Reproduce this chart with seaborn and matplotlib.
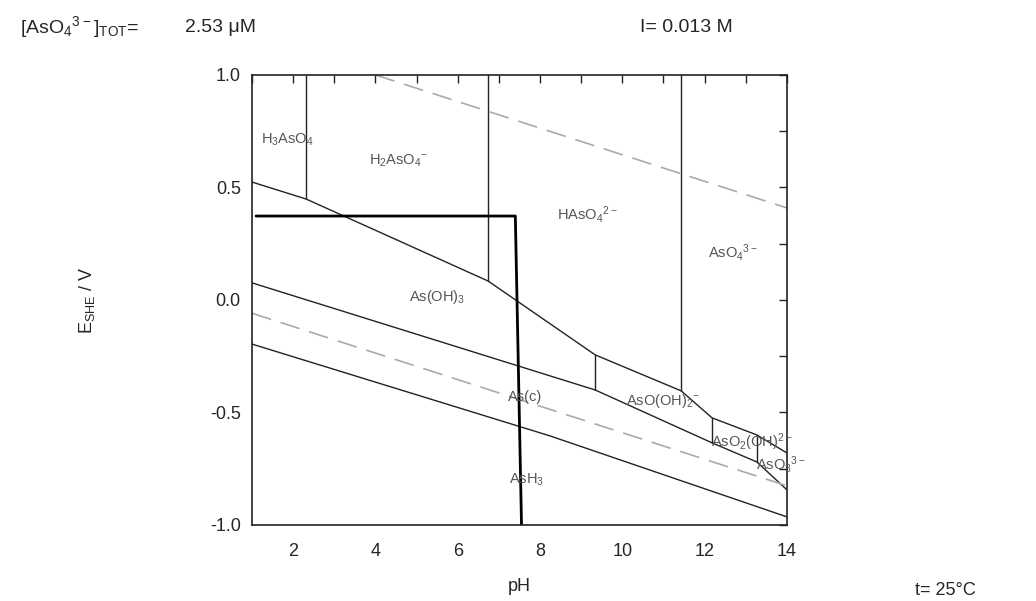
import numpy as np
import pandas as pd
import matplotlib
matplotlib.use("Agg")
import matplotlib.pyplot as plt
import seaborn as sns

# ---- data (pH, E_SHE / V) ----
# As(V) / As(III) boundary
asv_ph = [1.0, 2.31, 6.74, 9.34, 11.43, 12.18, 13.27, 14.0]
asv_e = [0.524, 0.449, 0.084, -0.244, -0.404, -0.524, -0.60, -0.68]
# As(III) / As(c) boundary
asiii_ph = [1.0, 9.34, 12.18, 13.27, 14.0]
asiii_e = [0.076, -0.40, -0.635, -0.72, -0.844]
# As(c) / AsH3 boundary
asc_ph = [1.0, 8.24, 14.0]
asc_e = [-0.196, -0.604, -0.964]
# vertical acid-base boundaries
vert_ph = [2.31, 6.74, 11.43, 9.34, 12.18, 13.27]
vert_top = [1.0, 1.0, 1.0, -0.244, -0.524, -0.60]
vert_bot = [0.449, 0.084, -0.404, -0.40, -0.635, -0.72]
# water stability lines
o2_ph = [4.0, 14.0]
o2_e = [1.0, 0.409]
h2_ph = [1.0, 14.0]
h2_e = [-0.059, -0.826]
# thick marker line
box_ph = [1.1, 7.4, 7.55]
box_e = [0.373, 0.373, -1.0]

species = ["H$_3$AsO$_4$", "H$_2$AsO$_4$$^{-}$", "HAsO$_4$$^{2-}$", "AsO$_4$$^{3-}$",
           "As(OH)$_3$", "As(c)", "AsO(OH)$_2$$^{-}$", "AsO$_2$(OH)$^{2-}$",
           "AsO$_3$$^{3-}$", "AsH$_3$"]
species_ph = [1.22, 4.55, 9.15, 12.7, 5.5, 7.63, 11.0, 13.15, 13.85, 7.68]
species_e = [0.71, 0.62, 0.38, 0.21, 0.013, -0.43, -0.45, -0.63, -0.73, -0.80]
species_ha = ["left", "center", "center", "center", "center", "center",
              "center", "center", "center", "center"]

x_ticks = [2, 4, 6, 8, 10, 12, 14]
y_ticks = [-1.0, -0.5, 0.0, 0.5, 1.0]

# ---- build tables ----
rows = []
seg = 0
for xs, ys in [(asv_ph, asv_e), (asiii_ph, asiii_e), (asc_ph, asc_e)]:
    for x, y in zip(xs, ys):
        rows.append((seg, x, y))
    seg += 1
for x, t, b in zip(vert_ph, vert_top, vert_bot):
    rows.append((seg, x, t))
    rows.append((seg, x, b))
    seg += 1
solid = pd.DataFrame(rows, columns=["seg", "pH", "E"])

drows = []
for i, (xs, ys) in enumerate([(o2_ph, o2_e), (h2_ph, h2_e)]):
    for x, y in zip(xs, ys):
        drows.append((i, x, y))
dashed = pd.DataFrame(drows, columns=["seg", "pH", "E"])

box = pd.DataFrame({"pH": box_ph, "E": box_e, "seg": 0})

# ---- plotting ----
sns.set_theme(style="white")
plt.rcParams["font.family"] = ["Liberation Sans", "DejaVu Sans"]
plt.rcParams["mathtext.default"] = "regular"
plt.rcParams["axes.unicode_minus"] = False

fig = plt.figure(figsize=(10.36, 6.01), dpi=100)
ax = fig.add_axes([0.2432, 0.1265, 0.5164, 0.7488])

sns.lineplot(data=solid, x="pH", y="E", units="seg", estimator=None, sort=False,
             color="#222222", linewidth=1.0, ax=ax)
n_before = len(ax.lines)
sns.lineplot(data=dashed, x="pH", y="E", units="seg", estimator=None, sort=False,
             color="#aaaaaa", linewidth=1.2, ax=ax)
for line in ax.lines[n_before:]:
    line.set_dashes([12, 6])
sns.lineplot(data=box, x="pH", y="E", units="seg", estimator=None, sort=False,
             color="black", linewidth=2.0, ax=ax)

for s, x, y, ha in zip(species, species_ph, species_e, species_ha):
    ax.text(x, y, s, ha=ha, va="center", fontsize=10.5, color="#555555")

ax.set_xlim(1, 14)
ax.set_ylim(-1.0, 1.0)
ax.set_xticks(x_ticks)
ax.set_xticks(np.arange(1, 15), minor=True)
ax.set_yticks(y_ticks)
ax.set_yticklabels([f"{v:.1f}" for v in y_ticks])
ax.set_yticks(np.arange(-1.0, 1.01, 0.25), minor=True)
ax.tick_params(which="both", direction="in", top=True, right=True,
               length=6, width=1, labelsize=13, color="#222222")
ax.tick_params(axis="x", pad=13)
ax.tick_params(axis="y", pad=8)
for sp in ax.spines.values():
    sp.set_color("#222222")
    sp.set_linewidth(1.2)

ax.set_xlabel("pH", fontsize=13)
ax.set_ylabel("E$_{SHE}$ / V", fontsize=13)
ax.xaxis.set_label_coords(0.5, -0.118)
ax.yaxis.set_label_coords(-0.29, 0.5)

fig.text(0.019, 0.955, "[AsO$_4$$^{3-}$]$_{TOT}$=", fontsize=14, va="center")
fig.text(0.179, 0.955, "2.53 μM", fontsize=14, va="center")
fig.text(0.618, 0.955, "I= 0.013 M", fontsize=14, va="center")
fig.text(0.883, 0.018, "t= 25°C", fontsize=13, va="center")

fig.savefig("out.png", dpi=100, facecolor="white")
